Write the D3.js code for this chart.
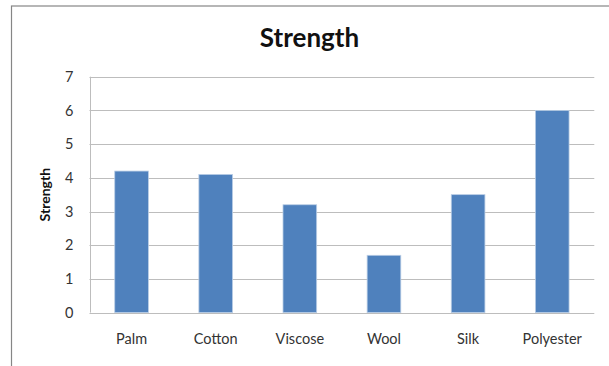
<!DOCTYPE html>
<html><head><meta charset="utf-8">
<script src="https://cdn.jsdelivr.net/npm/d3@7"></script>
<style>
html,body{margin:0;padding:0;background:#fff;}
svg{display:block;}
text{font-family:Lato,"Liberation Sans",sans-serif;}
</style></head>
<body>
<script>
const categories = ["Palm","Cotton","Viscose","Wool","Silk","Polyester"];
const values = [4.2, 4.1, 3.2, 1.7, 3.5, 6.0];
const yTicks = [0,1,2,3,4,5,6,7];
const title = "Strength";
const yTitle = "Strength";

const W = 609, H = 366;
const m = {left: 89.5, right: 609 - 594.3, top: 76.7, bottom: 366 - 312.6};

const svg = d3.select("body").append("svg").attr("width", W).attr("height", H);

// outer frame
svg.append("rect").attr("x", 11.5).attr("y", 6).attr("width", 620).attr("height", 400)
  .attr("fill", "#fff").attr("stroke", "#868686").attr("stroke-width", 1.2);

const x = d3.scaleBand().domain(categories).range([m.left, W - m.right]).paddingInner(0.6).paddingOuter(0.3);
const y = d3.scaleLinear().domain([0, 7]).range([H - m.bottom, m.top]);

// gridlines
svg.append("g").selectAll("line").data(yTicks).join("line")
  .attr("x1", m.left).attr("x2", W - m.right)
  .attr("y1", d => Math.round(y(d)) + 0.5).attr("y2", d => Math.round(y(d)) + 0.5)
  .attr("stroke", "#bdbdbd").attr("stroke-width", 1);

// left axis line
svg.append("line").attr("x1", Math.round(m.left) + 0.5).attr("x2", Math.round(m.left) + 0.5)
  .attr("y1", y(7)).attr("y2", y(0)).attr("stroke", "#bdbdbd");

// bars
svg.append("g").selectAll("rect").data(values).join("rect")
  .attr("x", (d, i) => x(categories[i]))
  .attr("width", x.bandwidth())
  .attr("y", d => y(d))
  .attr("height", d => y(0) - y(d))
  .attr("fill", "#4f81bd")
  .attr("stroke", "#b9cde5").attr("stroke-width", 0.8);

// y axis labels
const yAxis = d3.axisLeft(y).tickValues(yTicks).tickSize(0).tickPadding(16).tickFormat(d3.format("d"));
const ya = svg.append("g").attr("transform", `translate(${m.left},0)`).call(yAxis);
ya.select(".domain").remove();
ya.selectAll("text").attr("font-size", 14.5).attr("fill", "#333").attr("font-family", "Lato,'Liberation Sans',sans-serif");

// x axis labels
const xAxis = d3.axisBottom(x).tickSize(0).tickPadding(21);
const xa = svg.append("g").attr("transform", `translate(0,${y(0)})`).call(xAxis);
xa.select(".domain").remove();
xa.selectAll("text").attr("font-size", 14.5).attr("fill", "#333").attr("font-family", "Lato,'Liberation Sans',sans-serif");

// title
svg.append("text").attr("x", 309.5).attr("y", 47).attr("text-anchor", "middle")
  .attr("font-size", 26).attr("font-weight", "bold").attr("fill", "#111").text(title);

// y title
svg.append("text").attr("transform", `translate(50,${(y(0) + y(7)) / 2}) rotate(-90)`)
  .attr("text-anchor", "middle").attr("font-size", 14).attr("font-weight", "bold").attr("fill", "#111").text(yTitle);
</script>
</body></html>
